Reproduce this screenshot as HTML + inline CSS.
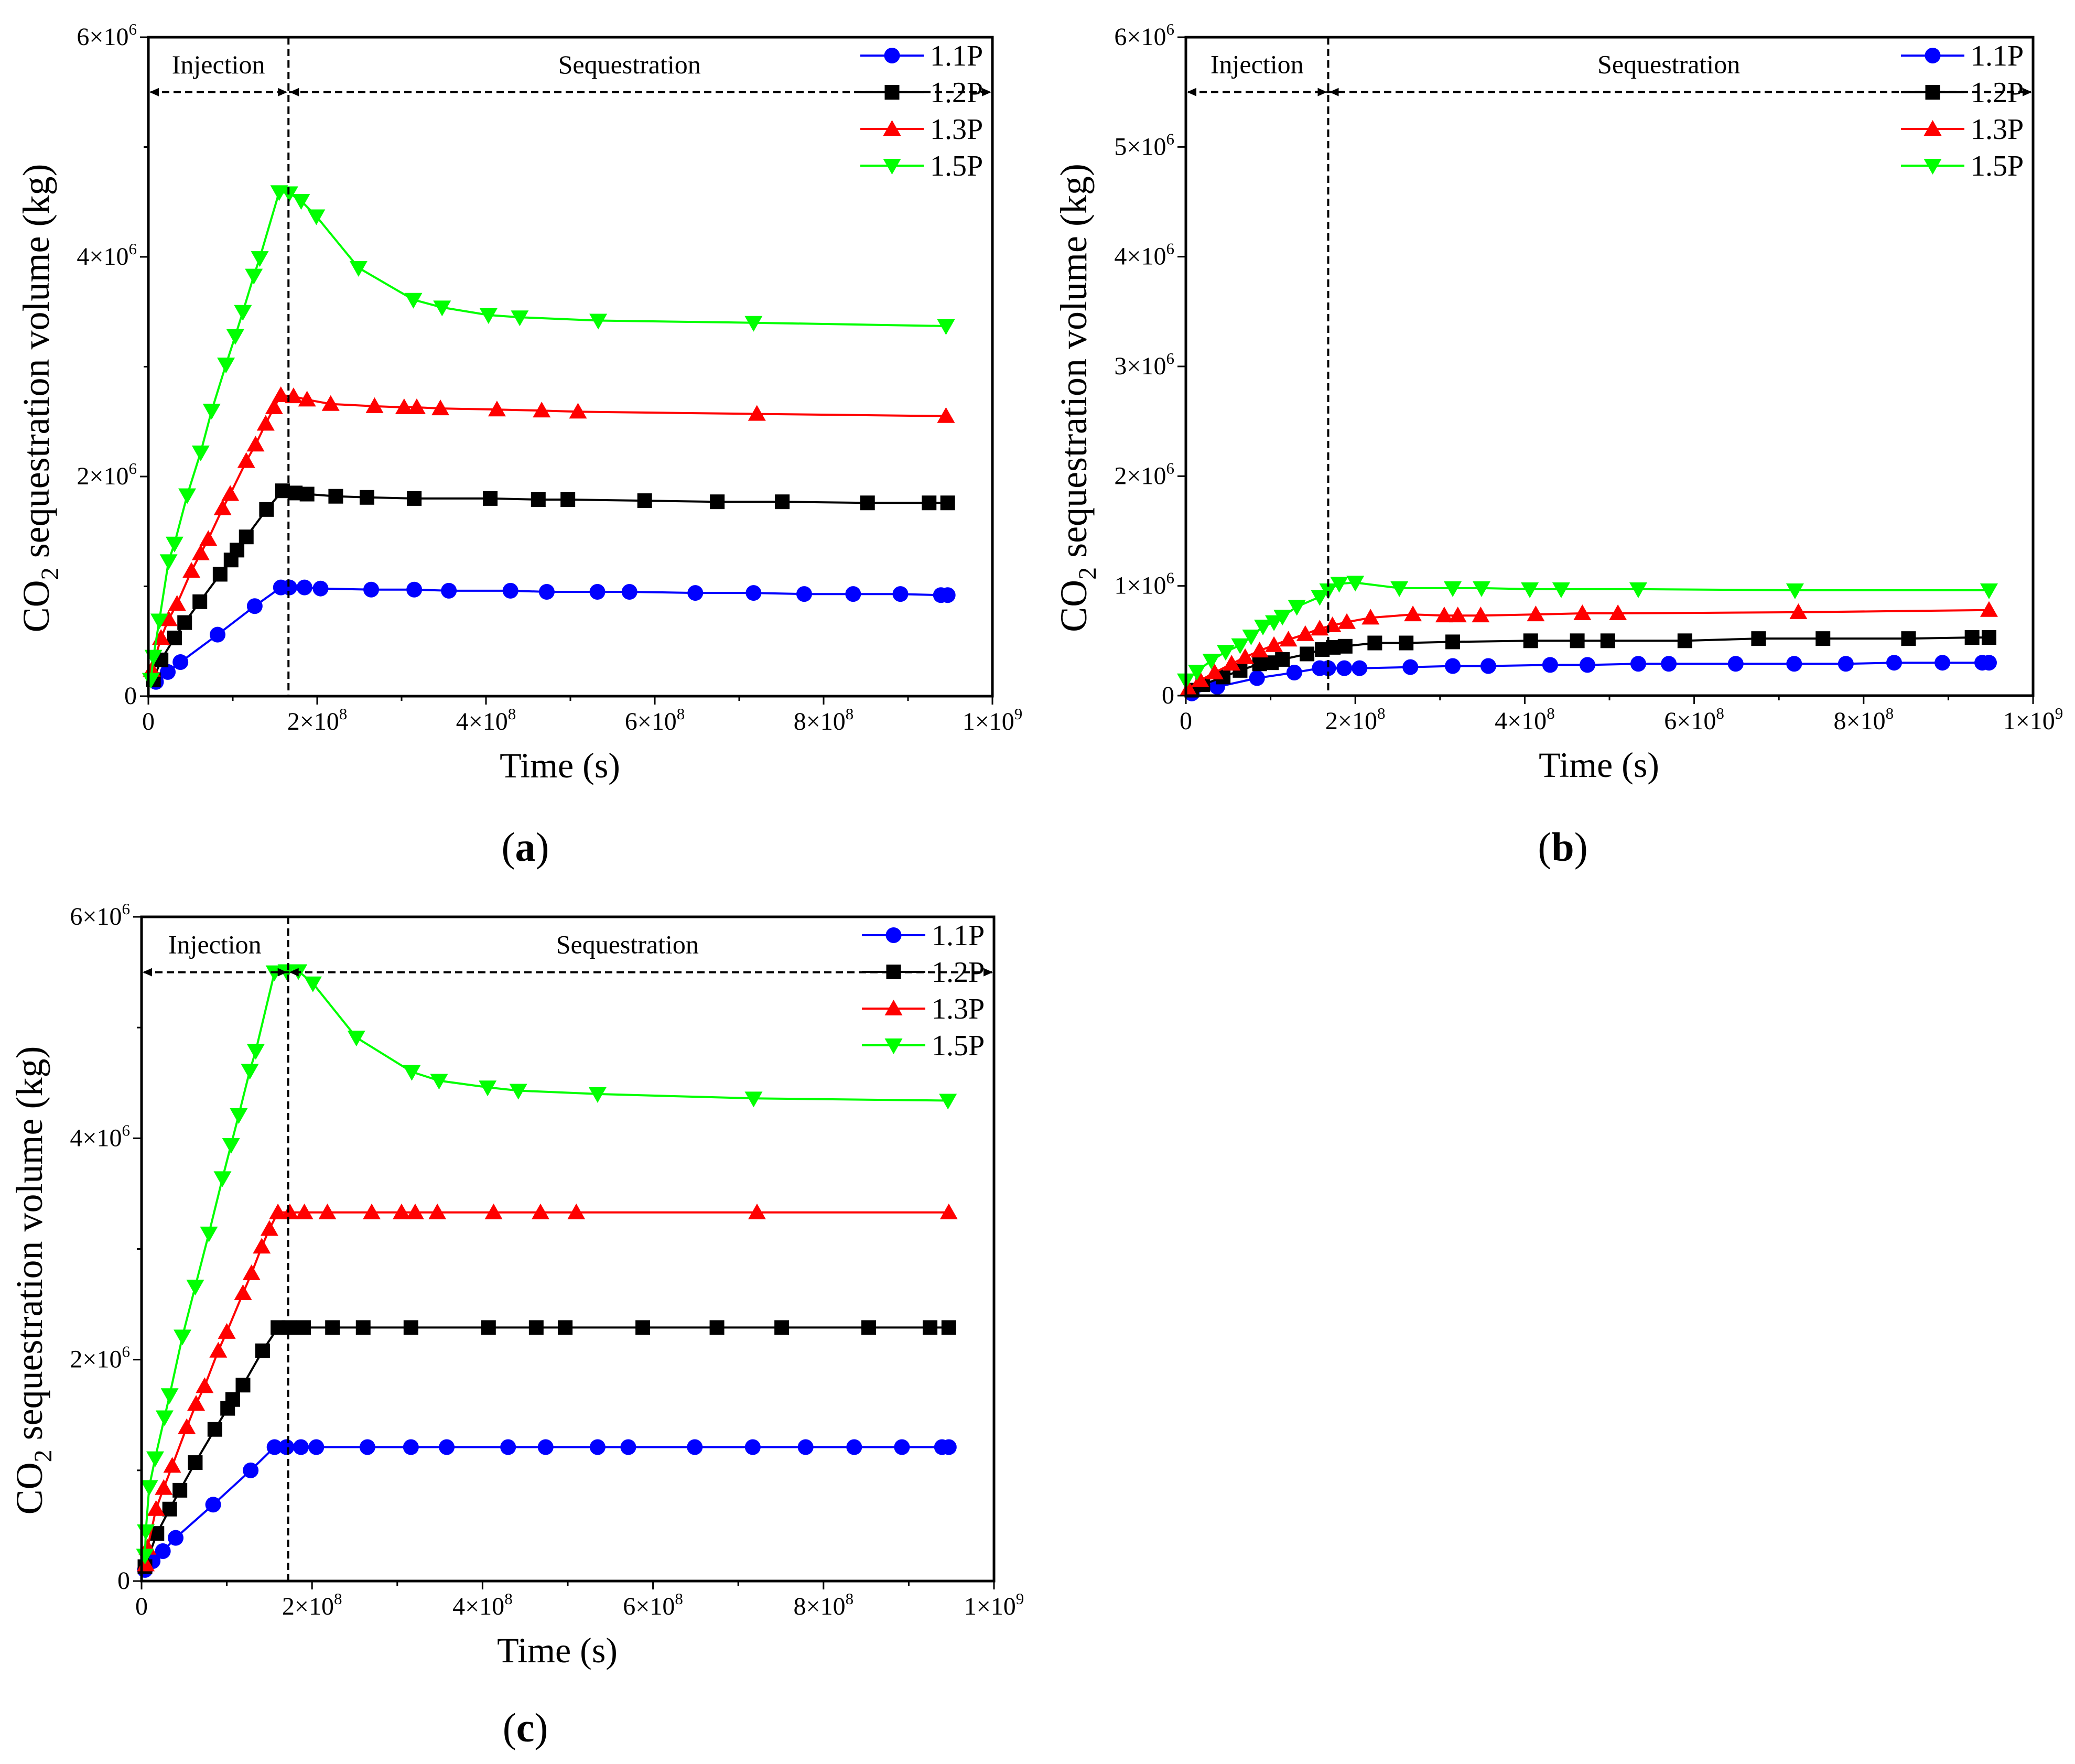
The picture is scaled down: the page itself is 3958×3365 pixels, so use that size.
<!DOCTYPE html>
<html><head><meta charset="utf-8">
<style>
html,body{margin:0;padding:0;background:#fff;}
svg{display:block;}
svg text{font-family:"Liberation Serif","Times New Roman",serif;}
</style></head>
<body>
<svg id="fig" width="3958" height="3365" viewBox="0 0 3958 3365" xmlns="http://www.w3.org/2000/svg" font-family="Liberation Serif, serif">
</svg>
<script>
// ---------- data (x in units of 1e8 s, y in units of 1e6 kg) ----------
const seriesNames = ["1.1P","1.2P","1.3P","1.5P"];
const seriesColors = ["#0000ff","#000000","#ff0000","#00ff00"];
const xTickLabels = ["0","2×10","4×10","6×10","8×10","1×10"];
const xTickExps = ["","8","8","8","8","9"];

// Panel (a)
const aBlueX=[0.09,0.23,0.38,0.82,1.26,1.57,1.67,1.85,2.04,2.64,3.15,3.56,4.29,4.72,5.32,5.70,6.48,7.17,7.77,8.35,8.91,9.39,9.47];
const aBlueY=[0.13,0.22,0.31,0.56,0.82,0.99,0.99,0.99,0.98,0.97,0.97,0.96,0.96,0.95,0.95,0.95,0.94,0.94,0.93,0.93,0.93,0.92,0.92];
const aBlackX=[0.06,0.15,0.31,0.43,0.61,0.85,0.98,1.05,1.16,1.40,1.59,1.74,1.88,2.22,2.59,3.15,4.05,4.62,4.97,5.88,6.74,7.51,8.52,9.25,9.47];
const aBlackY=[0.15,0.33,0.53,0.67,0.86,1.11,1.24,1.33,1.45,1.70,1.87,1.85,1.84,1.82,1.81,1.80,1.80,1.79,1.79,1.78,1.77,1.77,1.76,1.76,1.76];
const aRedX=[0.04,0.15,0.24,0.34,0.51,0.62,0.71,0.88,0.97,1.16,1.27,1.39,1.49,1.57,1.72,1.88,2.16,2.68,3.03,3.18,3.46,4.13,4.66,5.09,7.21,9.45];
const aRedY=[0.24,0.53,0.70,0.84,1.14,1.30,1.43,1.71,1.84,2.14,2.29,2.48,2.63,2.74,2.73,2.70,2.66,2.64,2.63,2.63,2.62,2.61,2.60,2.59,2.57,2.55];
const aGreenX=[0.03,0.06,0.13,0.24,0.31,0.46,0.62,0.75,0.92,1.03,1.12,1.25,1.32,1.55,1.67,1.81,1.99,2.49,3.14,3.48,4.03,4.40,5.33,7.17,9.45];
const aGreenY=[0.15,0.36,0.69,1.23,1.39,1.83,2.22,2.60,3.02,3.28,3.50,3.83,3.99,4.59,4.58,4.51,4.37,3.90,3.61,3.54,3.47,3.45,3.42,3.40,3.37];

// Panel (b)
const bBlueX=[0.07,0.37,0.84,1.28,1.58,1.68,1.87,2.05,2.65,3.15,3.57,4.30,4.74,5.34,5.70,6.49,7.18,7.79,8.36,8.93,9.40,9.48];
const bBlueY=[0.02,0.08,0.16,0.21,0.25,0.25,0.25,0.25,0.26,0.27,0.27,0.28,0.28,0.29,0.29,0.29,0.29,0.29,0.30,0.30,0.30,0.30];
const bBlackX=[0.07,0.20,0.44,0.64,0.87,1.01,1.14,1.43,1.61,1.74,1.88,2.23,2.60,3.15,4.07,4.62,4.98,5.89,6.76,7.52,8.53,9.28,9.48];
const bBlackY=[0.05,0.10,0.17,0.23,0.29,0.30,0.33,0.38,0.42,0.44,0.45,0.48,0.48,0.49,0.50,0.50,0.50,0.50,0.52,0.52,0.52,0.53,0.53];
const bRedX=[0.03,0.17,0.34,0.54,0.70,0.87,1.04,1.21,1.41,1.58,1.73,1.90,2.18,2.68,3.05,3.21,3.48,4.13,4.68,5.10,7.23,9.48];
const bRedY=[0.06,0.14,0.21,0.29,0.35,0.41,0.46,0.51,0.56,0.61,0.64,0.67,0.71,0.74,0.73,0.73,0.73,0.74,0.75,0.75,0.76,0.78];
const bGreenX=[0.00,0.13,0.30,0.47,0.64,0.77,0.91,1.04,1.14,1.31,1.58,1.68,1.81,2.00,2.52,3.15,3.49,4.06,4.43,5.34,7.19,9.48];
const bGreenY=[0.14,0.22,0.32,0.40,0.46,0.54,0.63,0.67,0.72,0.81,0.90,0.96,1.02,1.03,0.98,0.98,0.98,0.97,0.97,0.97,0.96,0.96];

// Panel (c)
const cBlueX=[0.04,0.13,0.25,0.40,0.84,1.28,1.56,1.70,1.87,2.05,2.65,3.16,3.58,4.30,4.74,5.35,5.71,6.49,7.17,7.79,8.36,8.92,9.39,9.47];
const cBlueY=[0.10,0.18,0.27,0.39,0.69,1.00,1.21,1.21,1.21,1.21,1.21,1.21,1.21,1.21,1.21,1.21,1.21,1.21,1.21,1.21,1.21,1.21,1.21,1.21];
const cBlackX=[0.04,0.18,0.33,0.45,0.63,0.86,1.01,1.07,1.19,1.42,1.60,1.73,1.90,2.24,2.60,3.16,4.07,4.63,4.97,5.88,6.75,7.51,8.53,9.25,9.47];
const cBlackY=[0.13,0.43,0.65,0.82,1.07,1.37,1.56,1.64,1.77,2.08,2.29,2.29,2.29,2.29,2.29,2.29,2.29,2.29,2.29,2.29,2.29,2.29,2.29,2.29,2.29];
const cRedX=[0.05,0.07,0.17,0.26,0.36,0.53,0.64,0.74,0.90,1.00,1.19,1.29,1.41,1.50,1.60,1.74,1.91,2.18,2.70,3.05,3.21,3.47,4.13,4.68,5.10,7.22,9.47];
const cRedY=[0.15,0.30,0.65,0.84,1.04,1.39,1.60,1.76,2.08,2.25,2.60,2.78,3.02,3.18,3.33,3.33,3.33,3.33,3.33,3.33,3.33,3.33,3.33,3.33,3.33,3.33,3.33];
const cGreenX=[0.04,0.05,0.09,0.16,0.27,0.33,0.48,0.63,0.79,0.95,1.05,1.14,1.27,1.34,1.56,1.70,1.84,2.01,2.52,3.17,3.49,4.06,4.42,5.35,7.18,9.46];
const cGreenY=[0.23,0.45,0.85,1.11,1.48,1.68,2.21,2.66,3.14,3.64,3.94,4.21,4.61,4.79,5.50,5.51,5.51,5.40,4.91,4.60,4.52,4.46,4.43,4.40,4.36,4.34];

const NS="http://www.w3.org/2000/svg";
const svg=document.getElementById('fig');
const FF='"Liberation Serif", serif';
function mk(tag,attrs,parent){const e=document.createElementNS(NS,tag);for(const k in attrs)e.setAttribute(k,attrs[k]);if(tag==='text')e.setAttribute('font-family',FF);(parent||svg).appendChild(e);return e;}

function marker(g,type,x,y,color){
  const r=15;let e;
  if(type===0){e=mk('circle',{cx:x,cy:y,r:r,fill:color},g);}
  else if(type===1){e=mk('rect',{x:x-r+1,y:y-r+1,width:2*r-2,height:2*r-2,fill:color},g);}
  else if(type===2){e=mk('polygon',{points:`${x},${y-r-2} ${x+r+2},${y+r-2} ${x-r-2},${y+r-2}`,fill:color},g);}
  else {e=mk('polygon',{points:`${x},${y+r+2} ${x+r+2},${y-r+2} ${x-r-2},${y-r+2}`,fill:color},g);}
  return e;
}

function panel(id,P,series,yLabelStep,vlineX,arrowY,label,labelPos){
  const g=mk('g',{});
  
  
  const X=v=>P.x0+(v/10)*(P.x1-P.x0);
  const Y=v=>P.y0-(v/6)*(P.y0-P.yt);
  series.forEach((s,i)=>{
    const sg=mk('g',{},g);
    
    
    const pts=s.x.map((v,k)=>X(v).toFixed(1)+','+Y(s.y[k]).toFixed(1)).join(' ');
    const pl=mk('polyline',{points:pts,fill:'none',stroke:seriesColors[i],'stroke-width':4,'stroke-linejoin':'round'},sg);
    
    
    s.x.forEach((v,k)=>{
      const m=marker(sg,i,X(v),Y(s.y[k]),seriesColors[i]);
      
      
    });
  });
  const fr=mk('rect',{x:P.x0,y:P.yt,width:P.x1-P.x0,height:P.y0-P.yt,fill:'none',stroke:'#000','stroke-width':5},g);
  
  
  for(let t=0;t<=10;t++){
    const x=X(t);const major=t%2===0;
    mk('line',{x1:x,y1:P.y0,x2:x,y2:P.y0+(major?16:9),stroke:'#000','stroke-width':3},g);
    if(major){
      const tx=mk('text',{x:x,y:P.y0+64,'font-size':48,'text-anchor':'middle',fill:'#000'},g);
      
      
      tx.textContent=xTickLabels[t/2];
      if(xTickExps[t/2]){const sp=mk('tspan',{dy:-20,'font-size':31},tx);sp.textContent=xTickExps[t/2];}
    }
  }
  for(let t=0;t<=6;t++){
    const y=Y(t);const major=t%yLabelStep===0;
    mk('line',{x1:P.x0,y1:y,x2:P.x0-(major?16:9),y2:y,stroke:'#000','stroke-width':3},g);
    if(major){
      const tx=mk('text',{x:P.x0-22,y:y+15,'font-size':48,'text-anchor':'end',fill:'#000'},g);
      
      
      if(t===0){tx.textContent='0';}
      else{tx.textContent=t+'×10';const sp=mk('tspan',{dy:-20,'font-size':31},tx);sp.textContent='6';}
    }
  }
  const xt=mk('text',{x:(P.x0+P.x1)/2-20,y:P.y0+155,'font-size':68,'text-anchor':'middle',fill:'#000'},g);
  
  
  xt.textContent='Time (s)';
  const cy=(P.y0+P.yt)/2+60;
  const yt=mk('text',{x:0,y:0,'font-size':72,'text-anchor':'middle',fill:'#000',transform:`translate(${P.x0-190},${cy}) rotate(-90)`},g);
  
  
  yt.textContent='CO';
  const sub=mk('tspan',{dy:18,'font-size':48},yt);sub.textContent='2';
  const rest=mk('tspan',{dy:-18},yt);rest.textContent=' sequestration volume (kg)';
  const vx=X(vlineX);
  const vl=mk('line',{x1:vx,y1:P.yt,x2:vx,y2:P.y0,stroke:'#000','stroke-width':4,'stroke-dasharray':'14,8'},g);
  
  
  const ay=Y(arrowY);
  const ar=mk('line',{x1:P.x0+4,y1:ay,x2:P.x1-4,y2:ay,stroke:'#000','stroke-width':4,'stroke-dasharray':'14,8'},g);
  
  
  const heads=[[P.x0+2,1],[vx-2,-1],[vx+2,1],[P.x1-2,-1]];
  heads.forEach(h=>{mk('polygon',{points:`${h[0]},${ay} ${h[0]+h[1]*18},${ay-8} ${h[0]+h[1]*18},${ay+8}`,fill:'#000'},g);});
  const inj=mk('text',{x:(P.x0+vx)/2,y:ay-36,'font-size':50,'text-anchor':'middle',fill:'#000'},g);
  
  
  inj.textContent='Injection';
  const seq=mk('text',{x:P.x0+0.57*(P.x1-P.x0),y:ay-36,'font-size':50,'text-anchor':'middle',fill:'#000'},g);
  
  
  seq.textContent='Sequestration';
  const lg=mk('g',{},g);
  
  
  const lx0=P.x1-252, lx1=P.x1-131;
  seriesNames.forEach((n,i)=>{
    const ly=P.yt+35+i*70;
    const e=mk('g',{},lg);
    
    
    mk('line',{x1:lx0,y1:ly,x2:lx1,y2:ly,stroke:seriesColors[i],'stroke-width':4},e);
    marker(e,i,(lx0+lx1)/2,ly,seriesColors[i]);
    const t=mk('text',{x:lx1+12,y:ly+19,'font-size':56,fill:'#000'},e);
    t.textContent=n;
  });
  const pl=mk('text',{x:labelPos[0],y:labelPos[1],'font-size':78,'text-anchor':'middle',fill:'#000'},g);
  
  
  pl.appendChild(document.createTextNode('('));
  const b=mk('tspan',{'font-weight':'bold'},pl);b.textContent=label;
  pl.appendChild(document.createTextNode(')'));
}

const mkS=(bx,by,kx,ky,rx,ry,gx,gy)=>[{x:bx,y:by},{x:kx,y:ky},{x:rx,y:ry},{x:gx,y:gy}];
panel('a',{x0:283,x1:1893,y0:1328,yt:71},mkS(aBlueX,aBlueY,aBlackX,aBlackY,aRedX,aRedY,aGreenX,aGreenY),2,1.66,5.5,'a',[1002,1642]);
panel('b',{x0:2262,x1:3878,y0:1327,yt:71},mkS(bBlueX,bBlueY,bBlackX,bBlackY,bRedX,bRedY,bGreenX,bGreenY),1,1.68,5.5,'b',[2981,1642]);
panel('c',{x0:270,x1:1896,y0:3016,yt:1749},mkS(cBlueX,cBlueY,cBlackX,cBlackY,cRedX,cRedY,cGreenX,cGreenY),2,1.72,5.5,'c',[1002,3322]);
</script>
</body></html>
